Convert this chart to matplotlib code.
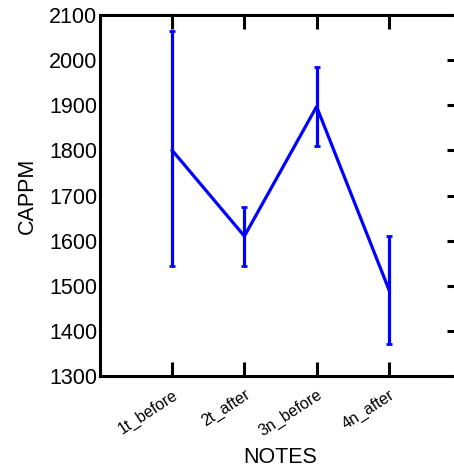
import numpy as np
import matplotlib.pyplot as plt

plt.rcParams['font.family'] = ['Liberation Sans', 'DejaVu Sans']

notes = ['1t_before', '2t_after', '3n_before', '4n_after']
mean_cappm = [1800, 1610, 1897, 1492]
err_low = [1543, 1543, 1809, 1372]
err_high = [2065, 1675, 1985, 1611]

x = np.arange(1, len(notes) + 1)
yerr = [np.array(mean_cappm) - np.array(err_low),
        np.array(err_high) - np.array(mean_cappm)]

W, H = 454, 474
fig = plt.figure(figsize=(W / 100, H / 100), dpi=100)
ax = fig.add_axes([100 / W, 1 - 376 / H, 361 / W, 361 / H])

ax.errorbar(x, mean_cappm, yerr=yerr, color='#0000ff', lw=2.3,
            elinewidth=2.3, capsize=2, capthick=2)

ax.set_xlim(0, 5)
ax.set_ylim(1300, 2100)
ax.set_xticks(x)
ax.set_xticklabels(notes, rotation=33, ha='right', rotation_mode='anchor',
                   fontsize=11.5)
ax.set_yticks(np.arange(1300, 2101, 100))

for s in ax.spines.values():
    s.set_linewidth(2.2)

ax.tick_params(axis='x', direction='in', length=10, width=2.2, top=True,
               pad=8)
ax.tick_params(axis='y', direction='in', length=10, width=2.2, right=True,
               labelsize=15.5, pad=2)
ax.yaxis.set_tick_params(which='major', left=False, right=True)

ax.set_xlabel('NOTES', fontsize=15.5, labelpad=6)
ax.set_ylabel('CAPPM', fontsize=15.5, labelpad=8)

fig.savefig('out.png', dpi=100)
